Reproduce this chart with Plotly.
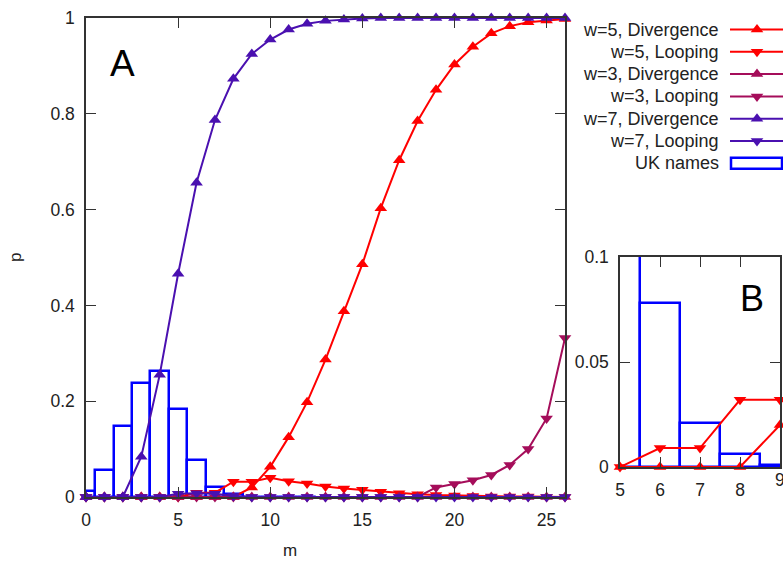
import plotly.graph_objects as go

# ---- data ----
m = list(range(27))
w5_div = [0, 0, 0, 0, 0, 0, 0, 0, 0, 0.02, 0.063, 0.125, 0.198, 0.287, 0.388, 0.486,
          0.603, 0.703, 0.785, 0.85, 0.903, 0.94, 0.968, 0.983, 0.991, 0.995, 0.998]
w5_loop = [0, 0, 0, 0, 0, 0, 0.009, 0.009, 0.032, 0.032, 0.04, 0.033, 0.028, 0.022,
           0.018, 0.015, 0.011, 0.008, 0.006, 0.004, 0.003, 0.002, 0.001, 0.001, 0.001, 0.0, 0.0]
w3_div = [0] * 27
w3_loop = [0, 0, 0, 0, 0, 0, 0, 0, 0, 0, 0, 0, 0, 0, 0, 0, 0, 0, 0.0, 0.02, 0.027,
           0.035, 0.046, 0.067, 0.1, 0.164, 0.332]
w7_div = [0, 0, 0, 0.084, 0.255, 0.466, 0.656, 0.787, 0.873, 0.925, 0.955, 0.976, 0.988,
          0.994, 0.997, 0.999, 1, 1, 1, 1, 1, 1, 1, 1, 1, 1, 1]
w7_loop = [0, 0, 0, 0, 0, 0.007, 0.008, 0.007, 0.002, 0, 0, 0, 0, 0, 0, 0, 0, 0, 0, 0,
           0, 0, 0, 0, 0, 0, 0]
uk_m = list(range(13))
uk_names = [0.013, 0.056, 0.148, 0.237, 0.263, 0.183, 0.078, 0.021, 0.006, 0.001,
            0.0003, 0.0, 0.0]
inset_ticks = [5, 6, 7, 8, 9]

series = [
    ("w=5, Divergence", w5_div, "#ff0000", "triangle-up"),
    ("w=5, Looping", w5_loop, "#ff0000", "triangle-down"),
    ("w=3, Divergence", w3_div, "#a50d5a", "triangle-up"),
    ("w=3, Looping", w3_loop, "#a50d5a", "triangle-down"),
    ("w=7, Divergence", w7_div, "#4a10b0", "triangle-up"),
    ("w=7, Looping", w7_loop, "#4a10b0", "triangle-down"),
]
hist_label = "UK names"
hist_color = "#0000ff"

W, H = 783, 562
FONT = "Liberation Sans, Arial, sans-serif"
TXT = "#222222"
AX = "#333333"

fig = go.Figure()

# main histogram
fig.add_trace(go.Bar(x=uk_m, y=uk_names, width=1,
                     marker=dict(color="rgba(0,0,0,0)", line=dict(color=hist_color, width=2.5)),
                     xaxis="x", yaxis="y", showlegend=False))
# main lines
for name, ys, col, sym in series:
    fig.add_trace(go.Scatter(x=m, y=ys, mode="lines+markers", name=name,
                             line=dict(color=col, width=2),
                             marker=dict(symbol=sym, size=11, color=col),
                             cliponaxis=False, xaxis="x", yaxis="y", showlegend=False))

# inset (B): histogram + w=5 series
fig.add_trace(go.Bar(x=uk_m, y=uk_names, width=1,
                     marker=dict(color="rgba(0,0,0,0)", line=dict(color=hist_color, width=2.5)),
                     xaxis="x2", yaxis="y2", showlegend=False))
lo, hi = inset_ticks[0], inset_ticks[-1]
for name, ys, col, sym in series[:2]:
    fig.add_trace(go.Scatter(x=m[lo:hi + 1], y=ys[lo:hi + 1], mode="lines+markers",
                             line=dict(color=col, width=2),
                             marker=dict(symbol=sym, size=11, color=col),
                             cliponaxis=False, xaxis="x2", yaxis="y2", showlegend=False))

# custom legend (symbol to the right of right-aligned text), in pixel axes x3/y3
row_y = [29.5, 51.8, 74.1, 96.4, 118.7, 141.0, 163.3]
for i, (name, ys, col, sym) in enumerate(series):
    y0 = row_y[i]
    fig.add_trace(go.Scatter(x=[730, 783], y=[y0, y0], mode="lines",
                             line=dict(color=col, width=2), xaxis="x3", yaxis="y3",
                             showlegend=False, cliponaxis=False))
    fig.add_trace(go.Scatter(x=[757], y=[y0], mode="markers",
                             marker=dict(symbol=sym, size=11, color=col), xaxis="x3", yaxis="y3",
                             showlegend=False, cliponaxis=False))
    fig.add_annotation(x=721 / W, y=1 - y0 / H, xref="paper", yref="paper", text=name,
                       showarrow=False, xanchor="right", yanchor="middle",
                       font=dict(family=FONT, size=18, color=TXT))
y0 = row_y[6]
fig.add_shape(type="rect", xref="x3", yref="y3", x0=731, x1=782, y0=y0 - 5.5, y1=y0 + 5.5,
              line=dict(color=hist_color, width=2.5), fillcolor="rgba(0,0,0,0)")
fig.add_annotation(x=721 / W, y=1 - y0 / H, xref="paper", yref="paper", text=hist_label,
                   showarrow=False, xanchor="right", yanchor="middle",
                   font=dict(family=FONT, size=18, color=TXT))

axis_common = dict(showline=True, linecolor=AX, linewidth=1.5, mirror="ticks",
                   ticks="inside", ticklen=10, tickwidth=1.2, tickcolor=AX,
                   showgrid=False, zeroline=False, automargin=False,
                   tickfont=dict(family=FONT, size=17.5, color=TXT))

fig.update_layout(
    width=W, height=H,
    margin=dict(l=0, r=0, t=0, b=0, autoexpand=False),
    paper_bgcolor="white", plot_bgcolor="rgba(0,0,0,0)",
    showlegend=False, bargap=0,
    xaxis=dict(domain=[86 / W, 565 / W], range=[0, 26], tickvals=[0, 5, 10, 15, 20, 25],
               anchor="y", ticklabelstandoff=6, **axis_common),
    yaxis=dict(domain=[1 - 497 / H, 1 - 18 / H], range=[0, 1], dtick=0.2,
               anchor="x", ticklabelstandoff=6, **axis_common),
    xaxis2=dict(domain=[620 / W, 780 / W], range=[lo, hi], tickvals=inset_ticks,
                anchor="y2", ticklabelstandoff=6, **axis_common),
    yaxis2=dict(domain=[1 - 467 / H, 1 - 257 / H], range=[0, 0.1], dtick=0.05,
                anchor="x2", ticklabelstandoff=6, **axis_common),
    xaxis3=dict(domain=[0, 1], range=[0, W], visible=False, fixedrange=True, anchor="y3"),
    yaxis3=dict(domain=[0, 1], range=[H, 0], visible=False, fixedrange=True, anchor="x3"),
)

# inset last tick label (partly cut by the page edge in the original)
fig.add_annotation(x=inset_ticks[-1], xref="x2", y=1 - 480 / H, yref="paper",
                   text=str(inset_ticks[-1]), showarrow=False, xanchor="center",
                   yanchor="middle", font=dict(family=FONT, size=17.5, color=TXT))

# panel labels and axis titles
fig.add_annotation(x=122 / W, y=1 - 64 / H, xref="paper", yref="paper", text="A",
                   showarrow=False, xanchor="center", yanchor="middle",
                   font=dict(family=FONT, size=37, color="black"))
fig.add_annotation(x=752 / W, y=1 - 298 / H, xref="paper", yref="paper", text="B",
                   showarrow=False, xanchor="center", yanchor="middle",
                   font=dict(family=FONT, size=36, color="black"))
fig.add_annotation(x=290 / W, y=1 - 550 / H, xref="paper", yref="paper", text="m",
                   showarrow=False, xanchor="center", yanchor="middle",
                   font=dict(family=FONT, size=17, color=TXT))
fig.add_annotation(x=15 / W, y=1 - 257 / H, xref="paper", yref="paper", text="p",
                   showarrow=False, textangle=-90, xanchor="center", yanchor="middle",
                   font=dict(family=FONT, size=17, color=TXT))

fig.write_html("out.html", config={"displayModeBar": False},
               post_script="document.body.style.margin='0';document.body.style.overflow='hidden';")
